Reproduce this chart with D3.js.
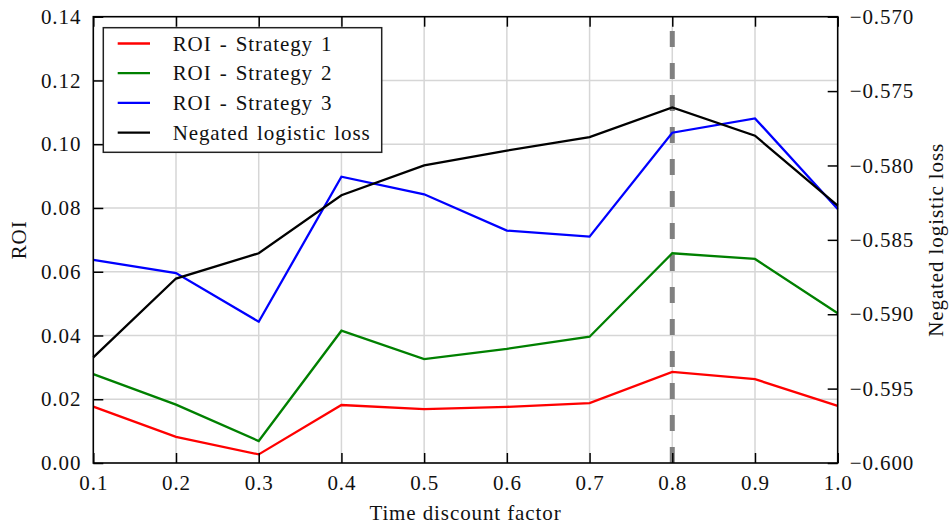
<!DOCTYPE html>
<html>
<head>
<meta charset="utf-8">
<script src="https://cdn.jsdelivr.net/npm/d3@7"></script>
<style>
  html, body { margin: 0; padding: 0; background: #fff; }
  svg text { font-family: "Liberation Serif", "Times New Roman", serif; fill: #111; }
</style>
</head>
<body>
<svg id="chart" width="950" height="529"></svg>
<script>
// Time discount factor (x values)
const discount = [0.1, 0.2, 0.3, 0.4, 0.5, 0.6, 0.7, 0.8, 0.9, 1.0];

// ROI for each strategy (left axis)
const roiStrategy1 = [0.0177, 0.0082, 0.0027, 0.0182, 0.0169, 0.0176, 0.0188, 0.0286, 0.0263, 0.0179];
const roiStrategy2 = [0.0279, 0.0183, 0.0069, 0.0415, 0.0326, 0.0358, 0.0396, 0.0658, 0.0640, 0.0470];
const roiStrategy3 = [0.0637, 0.0596, 0.0443, 0.0898, 0.0843, 0.0729, 0.0710, 0.1036, 0.1081, 0.0797];

// Negated logistic loss (right axis)
const negLogLoss = [-0.5929, -0.5876, -0.5859, -0.5820, -0.5800, -0.5790, -0.5781, -0.5761, -0.5780, -0.5827];

// Selected discount factor (dashed marker)
const bestDiscount = 0.8;

// Tick values
const xTicks = [0.1, 0.2, 0.3, 0.4, 0.5, 0.6, 0.7, 0.8, 0.9, 1.0];
const roiTicks = [0.00, 0.02, 0.04, 0.06, 0.08, 0.10, 0.12, 0.14];
const lossTicks = [-0.600, -0.595, -0.590, -0.585, -0.580, -0.575, -0.570];

const seriesNames = ["ROI - Strategy 1", "ROI - Strategy 2", "ROI - Strategy 3", "Negated logistic loss"];
const seriesColors = ["#ff0000", "#008000", "#0000ff", "#000000"];

(function draw() {
  const svg = d3.select("#chart");
  const pLeft = 93.3, pTop = 16.7, pRight = 837.7, pBottom = 463;
  const W = pRight - pLeft, H = pBottom - pTop;
  const tickFont = 21, spacing = "0.9px";

  const x = d3.scaleLinear().domain([0.1, 1.0]).range([pLeft, pRight]);
  const yRoi = d3.scaleLinear().domain([0, 0.14]).range([pBottom, pTop]);
  const yLoss = d3.scaleLinear().domain([-0.600, -0.570]).range([pBottom, pTop]);

  // Grid
  const grid = svg.append("g").attr("stroke", "#d6d6d6").attr("stroke-width", 1.5);
  grid.selectAll("line.gx").data(xTicks.slice(1, -1)).join("line")
    .attr("x1", d => x(d)).attr("x2", d => x(d)).attr("y1", pTop).attr("y2", pBottom);
  grid.selectAll("line.gy").data(roiTicks.slice(1, -1)).join("line")
    .attr("y1", d => yRoi(d)).attr("y2", d => yRoi(d)).attr("x1", pLeft).attr("x2", pRight);

  // Dashed marker at the chosen discount factor
  svg.append("line")
    .attr("x1", x(bestDiscount)).attr("x2", x(bestDiscount))
    .attr("y1", pBottom).attr("y2", pTop)
    .attr("stroke", "#808080").attr("stroke-width", 5)
    .attr("stroke-dasharray", "16,16");

  // Series lines
  const roiLine = d3.line().x((d, i) => x(discount[i])).y(d => yRoi(d));
  const lossLine = d3.line().x((d, i) => x(discount[i])).y(d => yLoss(d));
  [roiStrategy1, roiStrategy2, roiStrategy3].forEach((s, k) => {
    svg.append("path").datum(s).attr("d", roiLine)
      .attr("fill", "none").attr("stroke", seriesColors[k]).attr("stroke-width", 2.3);
  });
  svg.append("path").datum(negLogLoss).attr("d", lossLine)
    .attr("fill", "none").attr("stroke", seriesColors[3]).attr("stroke-width", 2.3);

  // Axes (ticks drawn inward)
  const tickLen = 10;
  const axes = svg.append("g");
  const styleAxis = g => {
    g.select(".domain").remove();
    g.selectAll(".tick line").attr("stroke", "#000").attr("stroke-width", 1.5);
    g.selectAll(".tick text")
      .style("font-size", tickFont + "px").style("letter-spacing", spacing).attr("fill", "#111");
  };
  axes.append("g").attr("transform", `translate(0,${pBottom})`)
    .call(d3.axisBottom(x).tickValues(xTicks).tickFormat(d3.format(".1f"))
      .tickSizeInner(-tickLen).tickSizeOuter(0).tickPadding(12))
    .call(styleAxis);
  axes.append("g").attr("transform", `translate(0,${pTop})`)
    .call(d3.axisTop(x).tickValues(xTicks).tickFormat("")
      .tickSizeInner(-tickLen).tickSizeOuter(0))
    .call(styleAxis);
  axes.append("g").attr("transform", `translate(${pLeft},0)`)
    .call(d3.axisLeft(yRoi).tickValues(roiTicks).tickFormat(d3.format(".2f"))
      .tickSizeInner(-tickLen).tickSizeOuter(0).tickPadding(12))
    .call(styleAxis);
  axes.append("g").attr("transform", `translate(${pRight},0)`)
    .call(d3.axisRight(yLoss).tickValues(lossTicks).tickFormat(d3.format(".3f"))
      .tickSizeInner(-tickLen).tickSizeOuter(0).tickPadding(12))
    .call(styleAxis);

  // Frame
  svg.append("rect").attr("x", pLeft).attr("y", pTop).attr("width", W).attr("height", H)
    .attr("fill", "none").attr("stroke", "#000").attr("stroke-width", 1.6);

  // Axis titles
  svg.append("text").attr("x", (pLeft + pRight) / 2).attr("y", 520)
    .attr("text-anchor", "middle").style("font-size", tickFont + "px").style("letter-spacing", spacing)
    .text("Time discount factor");
  svg.append("text").attr("transform", `translate(26,${(pTop + pBottom) / 2}) rotate(-90)`)
    .attr("text-anchor", "middle").style("font-size", tickFont + "px").style("letter-spacing", spacing)
    .text("ROI");
  svg.append("text").attr("transform", `translate(943,${(pTop + pBottom) / 2}) rotate(-90)`)
    .attr("text-anchor", "middle").style("font-size", tickFont + "px").style("letter-spacing", spacing)
    .text("Negated logistic loss");

  // Legend
  const legend = svg.append("g");
  legend.append("rect").attr("x", 103.3).attr("y", 27.7).attr("width", 278.4).attr("height", 124.6)
    .attr("fill", "#fff").attr("stroke", "#222").attr("stroke-width", 1.5);
  seriesNames.forEach((name, i) => {
    const ly = 43.5 + i * 29.7;
    legend.append("line").attr("x1", 117.7).attr("x2", 150).attr("y1", ly).attr("y2", ly)
      .attr("stroke", seriesColors[i]).attr("stroke-width", 2.3);
    legend.append("text").attr("x", 172.7).attr("y", ly + 7)
      .style("font-size", tickFont + "px").style("letter-spacing", spacing).style("word-spacing", "2px")
      .text(name);
  });
})();
</script>
</body>
</html>
